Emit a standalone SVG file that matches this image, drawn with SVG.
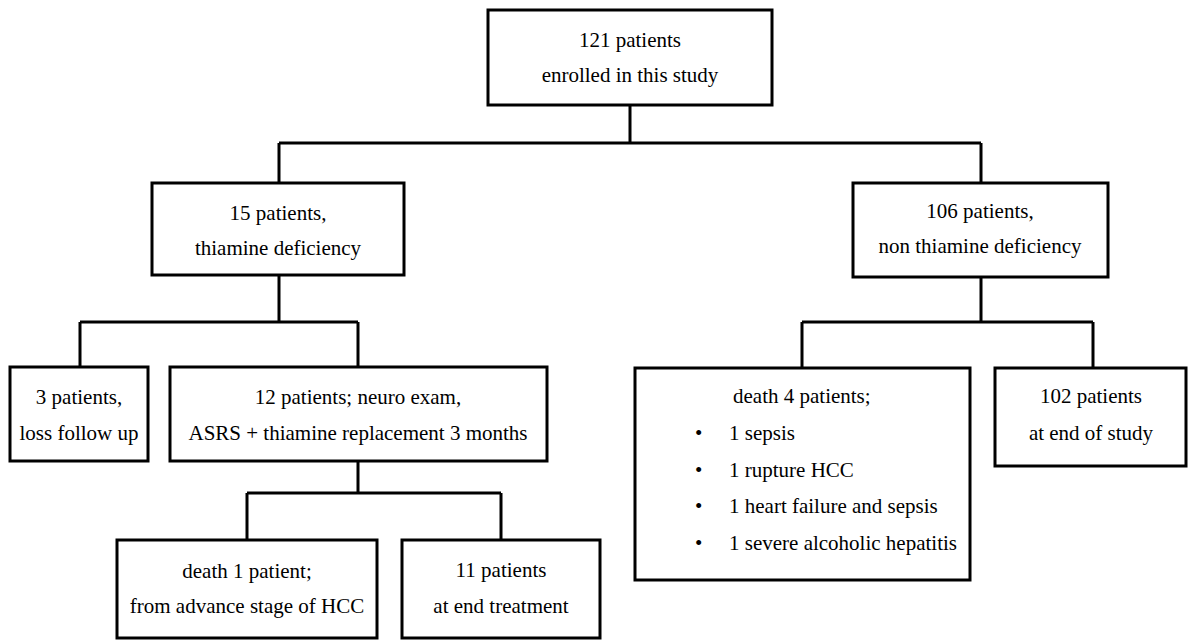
<svg xmlns="http://www.w3.org/2000/svg" width="1190" height="641" viewBox="0 0 1190 641">
<style>
.box{fill:#fff;stroke:#000;stroke-width:3}
.ln{fill:none;stroke:#000;stroke-width:3}
text{font-family:"Liberation Serif","Times New Roman",serif;font-size:21px;fill:#000}
.c{text-anchor:middle}
</style>
<rect width="1190" height="641" fill="#fff"/>
<g id="connectors">
<path class="ln" d="M630 105V143M279 143H981M279 143V183M981 143V183"/>
<path class="ln" d="M279 275V322M80 322H358M80 322V367M358 322V367"/>
<path class="ln" d="M358 461V493M247 493H501M247 493V540M501 493V540"/>
<path class="ln" d="M981 277V322M802 322H1093M802 322V368M1093 322V368"/>
</g>
<g id="n121">
<rect class="box" x="488" y="10" width="284" height="95"/>
<text class="c" x="630" y="47">121 patients</text>
<text class="c" x="630" y="82">enrolled in this study</text>
</g>
<g id="n15">
<rect class="box" x="152" y="183" width="252" height="92"/>
<text class="c" x="278" y="220">15 patients,</text>
<text class="c" x="278" y="255">thiamine deficiency</text>
</g>
<g id="n106">
<rect class="box" x="853" y="183" width="255" height="94"/>
<text class="c" x="980" y="218">106 patients,</text>
<text class="c" x="980" y="253">non thiamine deficiency</text>
</g>
<g id="n3">
<rect class="box" x="10" y="367" width="138" height="94"/>
<text class="c" x="79" y="404">3 patients,</text>
<text class="c" x="79" y="440">loss follow up</text>
</g>
<g id="n12">
<rect class="box" x="170" y="367" width="377" height="94"/>
<text class="c" x="358" y="404">12 patients; neuro exam,</text>
<text class="c" x="358" y="440">ASRS + thiamine replacement 3 months</text>
</g>
<g id="ndeath1">
<rect class="box" x="117" y="540" width="260" height="98"/>
<text class="c" x="247" y="578">death 1 patient;</text>
<text class="c" x="247" y="613">from advance stage of HCC</text>
</g>
<g id="n11">
<rect class="box" x="402" y="540" width="198" height="98"/>
<text class="c" x="501" y="577">11 patients</text>
<text class="c" x="501" y="613">at end treatment</text>
</g>
<g id="ndeath4">
<rect class="box" x="635" y="368" width="335" height="212"/>
<text x="733" y="403">death 4 patients;</text>
<text x="695" y="440">•</text><text x="729" y="440">1 sepsis</text>
<text x="695" y="477">•</text><text x="729" y="477">1 rupture HCC</text>
<text x="695" y="513">•</text><text x="729" y="513">1 heart failure and sepsis</text>
<text x="695" y="550">•</text><text x="729" y="550">1 severe alcoholic hepatitis</text>
</g>
<g id="n102">
<rect class="box" x="995" y="368" width="191" height="98"/>
<text class="c" x="1091" y="403">102 patients</text>
<text class="c" x="1091" y="440">at end of study</text>
</g>
</svg>
